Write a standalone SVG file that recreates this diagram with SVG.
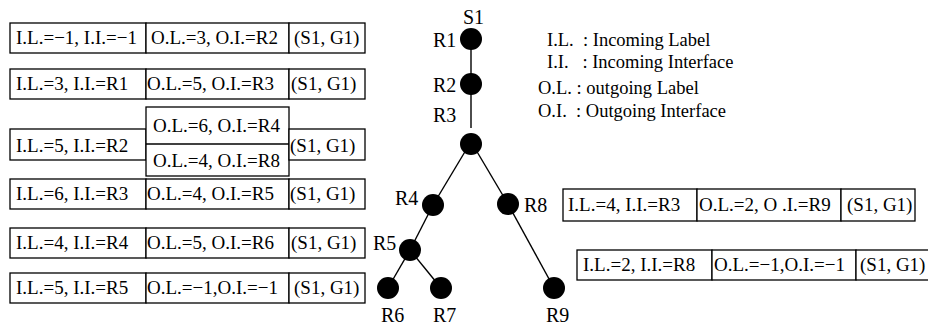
<svg xmlns="http://www.w3.org/2000/svg" width="928" height="327" viewBox="0 0 928 327">
<style>
text{font-family:"Liberation Serif","Times New Roman",serif;fill:#000}
.t{font-size:19px}
.lg{font-size:18.5px}
.lb{font-size:20px}
.bx{fill:#fff;stroke:#000;stroke-width:1.3}
.ln{stroke:#000;stroke-width:1.4;fill:none}
.nd{fill:#000}
</style>
<rect width="928" height="327" fill="#fff"/>
<g id="connectors">
<line class="ln" x1="471" y1="39" x2="471" y2="128"/>
<line class="ln" x1="466" y1="150" x2="433" y2="205"/>
<line class="ln" x1="476" y1="150" x2="508" y2="204"/>
<line class="ln" x1="433" y1="205" x2="410" y2="250"/>
<line class="ln" x1="410" y1="250" x2="388" y2="288"/>
<line class="ln" x1="410" y1="250" x2="441" y2="288"/>
<line class="ln" x1="508" y1="204" x2="554" y2="288"/>
</g>
<g id="node-S1"><text class="lb" x="463" y="24">S1</text></g>
<g id="node-R1"><circle class="nd" cx="471" cy="39" r="11"/><text class="lb" x="433" y="47">R1</text></g>
<g id="node-R2"><circle class="nd" cx="471" cy="84" r="11"/><text class="lb" x="433" y="92">R2</text></g>
<g id="node-R3"><circle class="nd" cx="471" cy="144" r="11"/><text class="lb" x="433" y="122">R3</text></g>
<g id="node-R4"><circle class="nd" cx="433" cy="205" r="11"/><text class="lb" x="395" y="205">R4</text></g>
<g id="node-R8"><circle class="nd" cx="508" cy="204" r="11"/><text class="lb" x="524" y="212">R8</text></g>
<g id="node-R5"><circle class="nd" cx="410" cy="250" r="11"/><text class="lb" x="373" y="250">R5</text></g>
<g id="node-R6"><circle class="nd" cx="388" cy="288" r="11"/><text class="lb" x="381" y="322">R6</text></g>
<g id="node-R7"><circle class="nd" cx="441" cy="288" r="11"/><text class="lb" x="433" y="322">R7</text></g>
<g id="node-R9"><circle class="nd" cx="554" cy="288" r="11"/><text class="lb" x="546" y="322">R9</text></g>
<g id="legend">
<text class="lg" x="547" y="46" xml:space="preserve">I.L.  : Incoming Label</text>
<text class="lg" x="547" y="68" xml:space="preserve">I.I.   : Incoming Interface</text>
<text class="lg" x="538" y="94" xml:space="preserve">O.L. : outgoing Label</text>
<text class="lg" x="538" y="117" xml:space="preserve">O.I.  : Outgoing Interface</text>
</g>
<g id="table-R1">
<rect class="bx" x="10" y="23" width="136" height="30"/><rect class="bx" x="146" y="23" width="143" height="30"/><rect class="bx" x="289" y="23" width="76" height="30"/>
<text class="t" x="16" y="44">I.L.=−1, I.I.=−1</text><text class="t" x="151" y="44">O.L.=3, O.I.=R2</text><text class="t" x="294" y="44">(S1, G1)</text>
</g>
<g id="table-R2">
<rect class="bx" x="10" y="69" width="136" height="30"/><rect class="bx" x="146" y="69" width="143" height="30"/><rect class="bx" x="289" y="69" width="76" height="30"/>
<text class="t" x="16" y="90">I.L.=3, I.I.=R1</text><text class="t" x="147" y="90">O.L.=5, O.I.=R3</text><text class="t" x="291" y="90">(S1, G1)</text>
</g>
<g id="table-R3">
<rect class="bx" x="10" y="129" width="136" height="31"/><rect class="bx" x="146" y="107" width="143" height="69"/><line class="ln" x1="146" y1="144" x2="289" y2="144"/><rect class="bx" x="289" y="129" width="76" height="31"/>
<text class="t" x="16" y="152">I.L.=5, I.I.=R2</text><text class="t" x="153" y="132">O.L.=6, O.I.=R4</text><text class="t" x="153" y="167">O.L.=4, O.I.=R8</text><text class="t" x="290" y="152">(S1, G1)</text>
</g>
<g id="table-R4">
<rect class="bx" x="10" y="179" width="136" height="30"/><rect class="bx" x="146" y="179" width="143" height="30"/><rect class="bx" x="289" y="179" width="76" height="30"/>
<text class="t" x="16" y="200">I.L.=6, I.I.=R3</text><text class="t" x="147" y="200">O.L.=4, O.I.=R5</text><text class="t" x="290" y="200">(S1, G1)</text>
</g>
<g id="table-R5">
<rect class="bx" x="10" y="228" width="136" height="30"/><rect class="bx" x="146" y="228" width="143" height="30"/><rect class="bx" x="289" y="228" width="76" height="30"/>
<text class="t" x="16" y="249">I.L.=4, I.I.=R4</text><text class="t" x="147" y="249">O.L.=5, O.I.=R6</text><text class="t" x="291" y="249">(S1, G1)</text>
</g>
<g id="table-R6">
<rect class="bx" x="10" y="273" width="136" height="30"/><rect class="bx" x="146" y="273" width="143" height="30"/><rect class="bx" x="289" y="273" width="76" height="30"/>
<text class="t" x="16" y="294">I.L.=5, I.I.=R5</text><text class="t" x="147" y="294">O.L.=−1,O.I.=−1</text><text class="t" x="294" y="294">(S1, G1)</text>
</g>
<g id="table-R8">
<rect class="bx" x="563" y="189" width="134" height="32"/><rect class="bx" x="697" y="189" width="144" height="32"/><rect class="bx" x="841" y="189" width="74" height="32"/>
<text class="t" x="568" y="211">I.L.=4, I.I.=R3</text><text class="t" x="699" y="211">O.L.=2, O .I.=R9</text><text class="t" x="847" y="211">(S1, G1)</text>
</g>
<g id="table-R9">
<rect class="bx" x="577" y="250" width="135" height="30"/><rect class="bx" x="712" y="250" width="144" height="30"/><rect class="bx" x="856" y="250" width="80" height="30"/>
<text class="t" x="583" y="271">I.L.=2, I.I.=R8</text><text class="t" x="714" y="271">O.L.=−1,O.I.=−1</text><text class="t" x="860" y="271">(S1, G1)</text>
</g>
</svg>
